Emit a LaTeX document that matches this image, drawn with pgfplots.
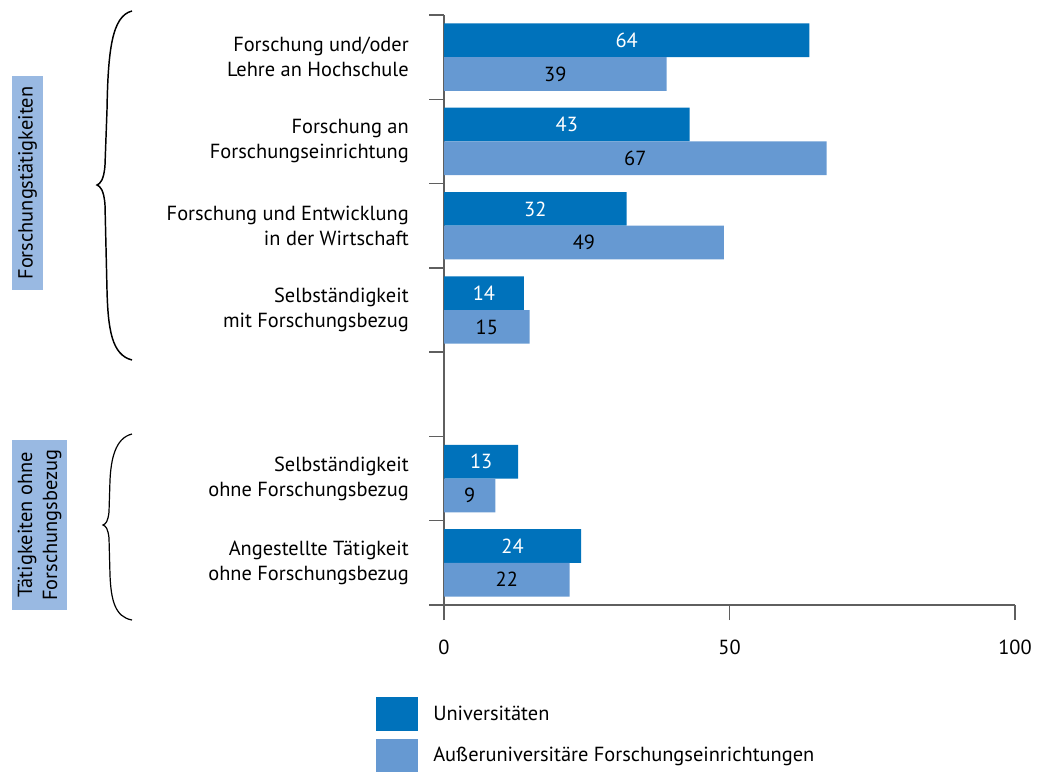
\documentclass[border=0pt]{standalone}
\usepackage{fontspec}
\setmainfont{PT Sans}
\usepackage{pgfplots}
\pgfplotsset{compat=1.18}
\definecolor{uni}{RGB}{0,114,187}
\definecolor{aue}{RGB}{102,153,210}
\definecolor{boxblue}{RGB}{153,185,226}
\definecolor{axgray}{RGB}{95,95,95}
\newcommand{\lf}{\fontsize{15.3pt}{18.75pt}\selectfont}
\begin{document}
\begin{tikzpicture}
\useasboundingbox (0,0) rectangle (780.75pt,-578.25pt);
\begin{axis}[
  at={(333pt,-453.75pt)}, anchor=south west,
  scale only axis, width=428.25pt, height=442.5pt,
  xmin=0, xmax=100, ymin=0, ymax=7,
  axis x line*=bottom, axis y line*=left,
  axis line style={-, draw=axgray, line width=1.1pt},
  tick style={draw=axgray, line width=1.1pt},
  tick align=outside, major tick length=11.25pt,
  xtick={0,50,100},
  ytick={0,1,2,3,4,5,6,7}, yticklabels={},
  /pgf/number format/assume math mode=true,
  every tick label/.append style={font=\lf},
  xticklabel style={inner sep=0pt, anchor=north, yshift=-15pt},
  extra y ticks={6.5,5.5,4.5,3.5,1.5,0.5},
  extra y tick labels={{Forschung und/oder\\Lehre an Hochschule},{Forschung an\\Forschungseinrichtung},{Forschung und Entwicklung\\in der Wirtschaft},{Selbständigkeit\\mit Forschungsbezug},{Selbständigkeit\\ohne Forschungsbezug},{Angestellte Tätigkeit\\ohne Forschungsbezug}},
  extra y tick style={major tick length=0pt, yticklabel style={align=right, anchor=east, inner sep=0pt, xshift=-26.25pt, font=\lf}},
  clip=false,
  legend style={at={(rel axis cs:-0.1191,-0.1559)}, anchor=north west, draw=none, fill=none, inner sep=0pt, row sep=5.5pt, column sep=11.25pt, font=\lf, nodes={inner sep=0pt}},
  legend cell align=left,
]
\addplot[xbar, bar width=0.4, bar shift=0pt, fill=uni, draw=none,
  legend image code/.code={\fill[uni] (0pt,-12.75pt) rectangle (31.5pt,12.75pt);},
  nodes near coords, visualization depends on={rawx \as \rawx},
  every node near coord/.append style={anchor=center, xshift=-\rawx*2.14125pt, text=white, font=\lf, inner sep=0pt}]
  coordinates {(64,6.7) (43,5.7) (32,4.7) (14,3.7) (13,1.7) (24,0.7)};
\addplot[xbar, bar width=0.4, bar shift=0pt, fill=aue, draw=none,
  legend image code/.code={\fill[aue] (0pt,-12.75pt) rectangle (31.5pt,12.75pt);},
  nodes near coords, visualization depends on={rawx \as \rawx},
  every node near coord/.append style={anchor=center, xshift=-\rawx*2.14125pt, text=black, font=\lf, inner sep=0pt}]
  coordinates {(39,6.3) (67,5.3) (49,4.3) (15,3.3) (9,1.3) (22,0.3)};
\legend{Universitäten, Außeruniversitäre Forschungseinrichtungen}
\end{axis}
\begin{scope}[x=0.75pt,y=-0.75pt]
  \node[rotate=90, fill=boxblue, inner sep=0pt, minimum width=160.5pt, minimum height=23.25pt, font=\lf] at (27.5,183) {Forschungstätigkeiten};
  \node[rotate=90, fill=boxblue, inner sep=0pt, minimum width=127.5pt, minimum height=41.25pt, align=center, font=\lf] at (39.5,525) {Tätigkeiten ohne\\Forschungsbezug};
  \draw[line width=1.1pt] (132,11) .. controls (112,16) and (108,50) .. (107,110) -- (105,165) .. controls (104,180) and (100,184) .. (97,185)
     .. controls (100,186) and (104,190) .. (105,205) -- (107,290) .. controls (108,330) and (112,355) .. (132,360);
  \draw[line width=0.9pt] (132,434) .. controls (115,438) and (111,460) .. (110,480) -- (109,512) .. controls (108,521) and (106,524) .. (103,525)
     .. controls (106,526) and (108,529) .. (109,538) -- (110,575) .. controls (111,600) and (115,617) .. (132,620);
\end{scope}
\end{tikzpicture}
\end{document}
